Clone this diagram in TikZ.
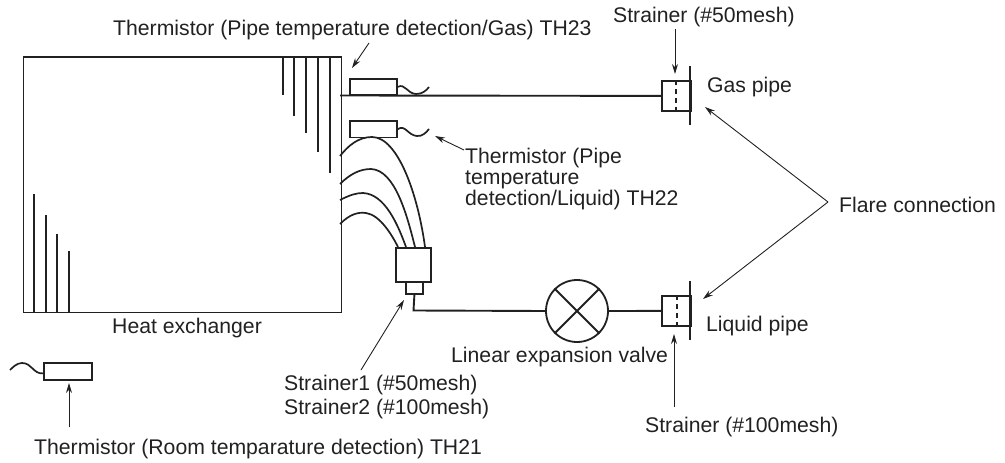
\documentclass[tikz,border=0pt]{standalone}
\usepackage{fontspec}
\setmainfont{Liberation Sans}
\usetikzlibrary{arrows.meta}
\definecolor{ink}{gray}{0.13}
\tikzset{
  x=1pt,y=-1pt,
  pipeline/.style={line width=1.9pt,draw=ink},
  thin pipe/.style={line width=1.7pt,draw=ink},
  box/.style={draw=ink,line width=1.8pt,anchor=north west,inner sep=0pt},
  leader/.style={line width=0.9pt,draw=ink,-{Stealth[length=10pt,width=6pt]}},
  lbl/.style={font=\fontsize{21.2}{21.5}\selectfont,text=ink,inner sep=0pt,align=left,anchor=base west},
}
\begin{document}
\begin{tikzpicture}
\useasboundingbox (0,0) rectangle (1005,463);
% heat exchanger
\node[box,minimum width=318pt,minimum height=255.5pt] (hx) at (22.5,56) {};
\foreach \x/\y in {34/194,46/215,57/234,69/251}{\draw[thin pipe] (\x,\y) -- (\x,311.5);}
\foreach \x/\y in {283/95,294/116,306/133,318/152,330/173}{\draw[thin pipe] (\x,56) -- (\x,\y);}
% thermistors
\node[box,minimum width=47pt,minimum height=16pt] (t1) at (349,78) {};
\node[box,minimum width=47pt,minimum height=16.5pt] (t2) at (349,120) {};
\node[box,minimum width=48pt,minimum height=17pt] (t3) at (43,362) {};
\coordinate (w1) at (429,87);
\coordinate (w2) at (429,129);
\coordinate (w3) at (10,370);
\draw[thin pipe] (t1.east) .. controls (405,83) and (407,93.5) .. (416,94) .. controls (422,94) and (426,91) .. (w1);
\draw[thin pipe] (t2.east) .. controls (405,124) and (408,135.5) .. (417,136) .. controls (422,136.5) and (426,133) .. (w2);
\draw[thin pipe] (t3.west) ++(0,2) .. controls (33,374) and (32,363) .. (22,363) .. controls (17,363) and (13,367) .. (w3);
% gas line
\node[box,minimum width=29pt,minimum height=30pt] (sg) at (661,80) {};
\node[box,minimum width=29pt,minimum height=30pt] (sl) at (661,295) {};
\draw[pipeline] (340,95.5) -- (sg.west);
\draw[pipeline] (690,66) -- (690,125);
\draw[pipeline] (690,281) -- (690,340);
\draw[line width=1.5pt,draw=ink,dash pattern=on 5pt off 4pt] (676,80) -- (676,110);
\draw[line width=1.5pt,draw=ink,dash pattern=on 5pt off 4pt] (677,295) -- (677,325);
% distributor and strainer
\node[box,minimum width=35pt,minimum height=34pt] (dist) at (395,247) {};
\node[box,minimum width=17pt,minimum height=12pt] (st) at (405,281) {};
\node[draw=ink,line width=1.8pt,circle,inner sep=0pt,minimum size=62pt] (v) at (577,311) {};
\draw[line width=1.8pt,draw=ink] (v.45) -- (v.225) (v.135) -- (v.315);
\draw[pipeline] (st.south) -- (413.5,310.5) -- (v.west);
\draw[pipeline] (v.east) -- (sl.west);
% branches
\draw[thin pipe] (340,224) .. controls (350,214) and (358,212) .. (366,213) .. controls (380,215) and (392,235) .. (398,247);
\draw[thin pipe] (340,200) .. controls (350,195) and (356,193) .. (363,193) .. controls (385,194) and (398,225) .. (406,247);
\draw[thin pipe] (340,184) .. controls (350,174) and (360,169) .. (371,169) .. controls (395,170) and (407,215) .. (415,247);
\draw[thin pipe] (340,156) .. controls (348,146) and (358,137) .. (372,137) .. controls (398,137) and (418,195) .. (425,247);
% labels
\node[lbl] (ltg) at (113,35) {Thermistor (Pipe temperature detection/Gas) TH23};
\node[lbl] (lsg) at (613,22.7) {Strainer (\#50mesh)};
\node[lbl] (lgp) at (707,92) {Gas pipe};
\node[lbl] (ltl1) at (465,163) {Thermistor (Pipe};
\node[lbl] (ltl2) at (465,184) {temperature};
\node[lbl] (ltl3) at (465,205) {detection/Liquid) TH22};
\node[lbl] (lfc) at (839,212) {Flare connection};
\node[lbl] (lhx) at (112,333) {Heat exchanger};
\node[lbl] (lev) at (451,362) {Linear expansion valve};
\node[lbl] (llp) at (706,331) {Liquid pipe};
\node[lbl] (lstr1) at (284,390) {Strainer1 (\#50mesh)};
\node[lbl] (lstr2) at (284,414) {Strainer2 (\#100mesh)};
\node[lbl] (lsl) at (645,432) {Strainer (\#100mesh)};
\node[lbl] (ltr) at (34,454) {Thermistor (Room temparature detection) TH21};
% leaders
\coordinate (a1) at (369,43);
\draw[leader] (a1) -- (352,68);
\coordinate (a2) at (464,150);
\draw[leader] (a2) -- (435,136);
\coordinate (a6) at (675,29);
\draw[leader] (a6) -- (675,74);
\coordinate (a7) at (674,407);
\draw[leader] (a7) -- (674,334);
\coordinate (a3) at (828,202);
\draw[leader] (a3) -- (705,107);
\draw[leader] (a3) -- (703,299);
\coordinate (a5) at (361,370);
\draw[leader] (a5) -- (404,300);
\coordinate (a8) at (69,427);
\draw[leader] (a8) -- (69,383);
\end{tikzpicture}
\end{document}
